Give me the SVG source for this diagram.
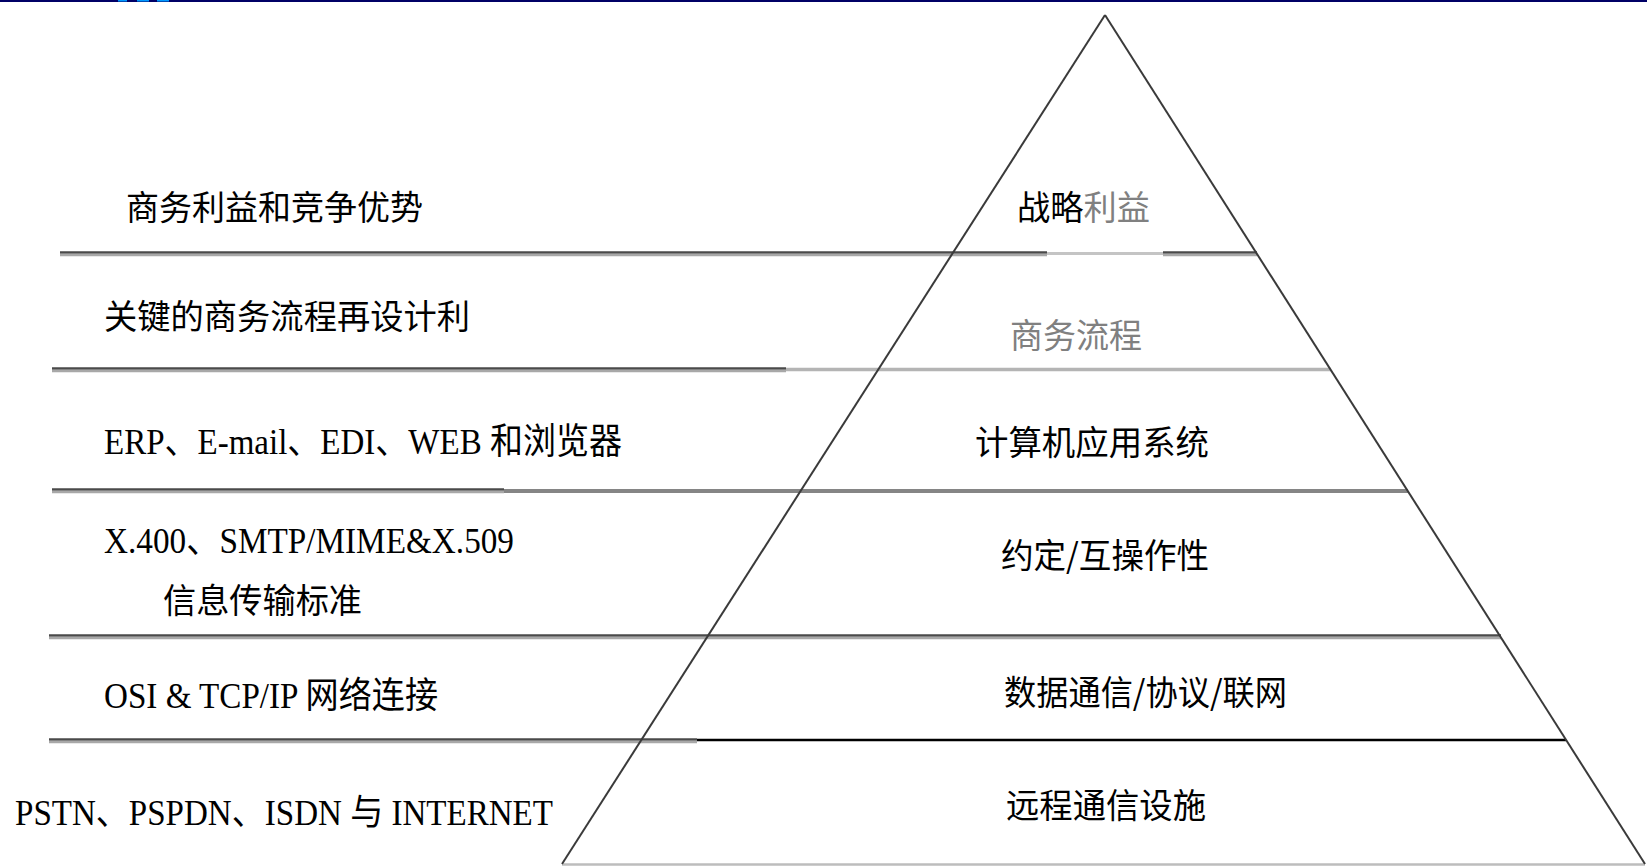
<svg xmlns="http://www.w3.org/2000/svg" width="1647" height="866" viewBox="0 0 1647 866">
<style>
.t{font-family:"Liberation Serif","Noto Sans CJK SC",serif;font-size:34px;fill:#000}
.m{font-size:36px}
.c{font-family:"Noto Sans CJK SC",sans-serif}
.g{fill:#808080}
.dk{stroke:#4a4a4a;stroke-width:2.6;fill:none}
.lt{stroke:#a8a8a8;stroke-width:2.4;fill:none}
.edge{stroke:#3a3a3a;stroke-width:2;fill:none}
</style>
<rect x="0" y="0" width="1647" height="866" fill="#fff"/>
<g id="topbar">
<rect x="0" y="0" width="1647" height="2" fill="#000066"/>
<rect x="118" y="0" width="9" height="1.5" fill="#0099ff"/>
<rect x="137" y="0" width="12" height="1.5" fill="#0099ff"/>
<rect x="157" y="0" width="12" height="1.5" fill="#0099ff"/>
</g>
<g id="connectors">
<line class="dk" x1="60" y1="252.5" x2="1047" y2="252.5"/>
<line class="lt" x1="60" y1="255" x2="1047" y2="255"/>
<line x1="1047" y1="253.5" x2="1163" y2="253.5" stroke="#c4c4c4" stroke-width="3"/>
<line class="dk" x1="1163" y1="252.5" x2="1257" y2="252.5"/>
<line class="lt" x1="1163" y1="255" x2="1257" y2="255"/>

<line class="dk" x1="52" y1="368.5" x2="786" y2="368.5"/>
<line class="lt" x1="52" y1="371" x2="786" y2="371"/>
<line x1="786" y1="369.5" x2="1331" y2="369.5" stroke="#b4b4b4" stroke-width="3.5"/>

<line class="dk" x1="52" y1="489.5" x2="504" y2="489.5"/>
<line class="lt" x1="52" y1="492" x2="504" y2="492"/>
<line x1="504" y1="491" x2="1408" y2="491" stroke="#858585" stroke-width="4"/>

<line class="dk" x1="49" y1="635.5" x2="1501" y2="635.5"/>
<line class="lt" x1="49" y1="638" x2="1501" y2="638"/>

<line class="dk" x1="49" y1="739.5" x2="697" y2="739.5"/>
<line class="lt" x1="49" y1="742" x2="697" y2="742"/>
<line x1="697" y1="740" x2="1566" y2="740" stroke="#000" stroke-width="2.6"/>

<line x1="562" y1="864.5" x2="1645" y2="864.5" stroke="#bdbdbd" stroke-width="2.4"/>
<line class="edge" x1="1105" y1="15" x2="562" y2="864"/>
<line class="edge" x1="1105" y1="15" x2="1645" y2="864"/>
</g>
<g id="left-1"><text class="t c" x="126" y="220" textLength="297" lengthAdjust="spacingAndGlyphs">商务利益和竞争优势</text></g>
<g id="left-2"><text class="t c" x="104" y="329" textLength="366" lengthAdjust="spacingAndGlyphs">关键的商务流程再设计利</text></g>
<g id="left-3"><text class="t m" x="104" y="454" textLength="518" lengthAdjust="spacingAndGlyphs">ERP、E-mail、EDI、WEB 和浏览器</text></g>
<g id="left-4">
<text class="t m" x="104" y="553" textLength="410" lengthAdjust="spacingAndGlyphs">X.400、SMTP/MIME&amp;X.509</text>
<text class="t c" x="163" y="613" textLength="199" lengthAdjust="spacingAndGlyphs">信息传输标准</text>
</g>
<g id="left-5"><text class="t m" x="104" y="708" textLength="334" lengthAdjust="spacingAndGlyphs">OSI &amp; TCP/IP 网络连接</text></g>
<g id="left-6"><text class="t m" x="15" y="825" textLength="538" lengthAdjust="spacingAndGlyphs">PSTN、PSPDN、ISDN 与 INTERNET</text></g>

<g id="level-1"><text class="t c" x="1017" y="220" textLength="133" lengthAdjust="spacingAndGlyphs">战略<tspan class="g">利益</tspan></text></g>
<g id="level-2"><text class="t c g" x="1010" y="348" textLength="132" lengthAdjust="spacingAndGlyphs">商务流程</text></g>
<g id="level-3"><text class="t c" x="975" y="455" textLength="234" lengthAdjust="spacingAndGlyphs">计算机应用系统</text></g>
<g id="level-4"><text class="t c" x="1001" y="568" textLength="208" lengthAdjust="spacingAndGlyphs">约定/互操作性</text></g>
<g id="level-5"><text class="t c" x="1004" y="705" textLength="283" lengthAdjust="spacingAndGlyphs">数据通信/协议/联网</text></g>
<g id="level-6"><text class="t c" x="1006" y="818" textLength="200" lengthAdjust="spacingAndGlyphs">远程通信设施</text></g>
</svg>
